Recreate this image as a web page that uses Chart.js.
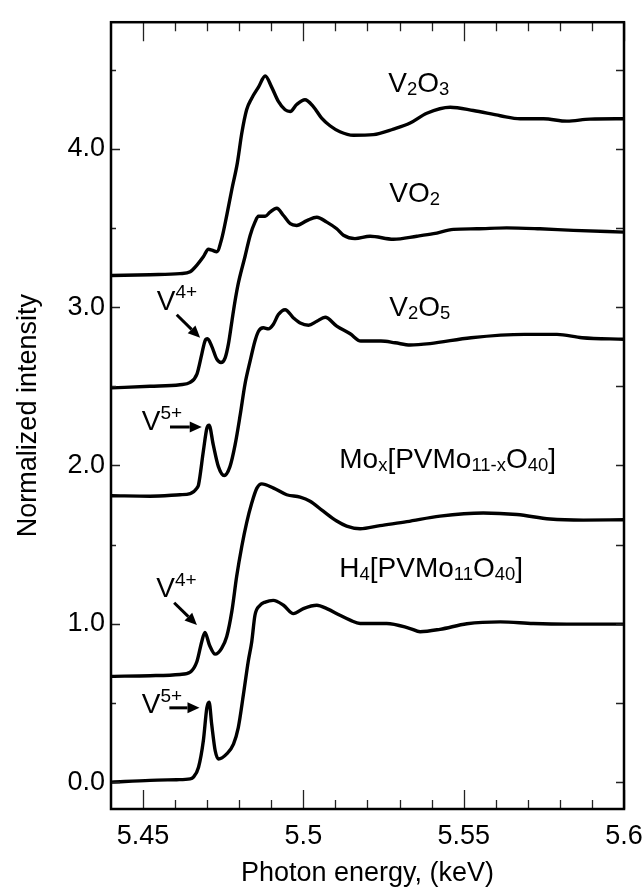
<!DOCTYPE html>
<html>
<head>
<meta charset="utf-8">
<script src="https://cdn.jsdelivr.net/npm/chart.js@4.4.1/dist/chart.umd.min.js"></script>
<style>
  html, body { margin: 0; padding: 0; background: #fff; }
  #wrap { width: 643px; height: 889px; }
</style>
</head>
<body>
<div id="wrap"><canvas id="xanes" width="643" height="889"></canvas></div>
<script>
// --- data (photon energy in keV, normalized intensity incl. vertical offset) ---
const v2o3E = [5.4402, 5.4522, 5.4615, 5.4647, 5.4668, 5.4688, 5.4704, 5.4715, 5.4730, 5.4745, 5.4761, 5.4777, 5.4794, 5.4808, 5.4823, 5.4839, 5.4860, 5.4881, 5.4901, 5.4922, 5.4943, 5.4959, 5.4979, 5.5005, 5.5031, 5.5057, 5.5083, 5.5114, 5.5156, 5.5218, 5.5281, 5.5333, 5.5385, 5.5458, 5.5530, 5.5614, 5.5676, 5.5749, 5.5822, 5.5894, 5.6000];
const v2o3I = [3.200, 3.205, 3.212, 3.224, 3.266, 3.318, 3.366, 3.360, 3.350, 3.430, 3.580, 3.745, 3.910, 4.100, 4.247, 4.320, 4.390, 4.460, 4.390, 4.300, 4.247, 4.236, 4.280, 4.310, 4.267, 4.194, 4.146, 4.108, 4.086, 4.090, 4.125, 4.163, 4.225, 4.263, 4.242, 4.209, 4.190, 4.190, 4.175, 4.188, 4.190];

const vo2E = [5.4402, 5.4522, 5.4615, 5.4647, 5.4668, 5.4683, 5.4693, 5.4701, 5.4714, 5.4730, 5.4743, 5.4756, 5.4766, 5.4777, 5.4787, 5.4797, 5.4818, 5.4834, 5.4849, 5.4860, 5.4881, 5.4896, 5.4917, 5.4938, 5.4959, 5.4979, 5.5011, 5.5042, 5.5073, 5.5104, 5.5125, 5.5161, 5.5208, 5.5281, 5.5354, 5.5406, 5.5468, 5.5541, 5.5634, 5.5738, 5.5842, 5.6000];
const vo2I = [2.490, 2.500, 2.510, 2.525, 2.577, 2.702, 2.786, 2.800, 2.754, 2.671, 2.650, 2.680, 2.765, 2.910, 3.040, 3.150, 3.320, 3.453, 3.537, 3.574, 3.574, 3.600, 3.625, 3.579, 3.527, 3.516, 3.547, 3.568, 3.537, 3.495, 3.454, 3.433, 3.448, 3.429, 3.448, 3.464, 3.491, 3.495, 3.501, 3.495, 3.485, 3.474];

const v2o5E = [5.4402, 5.4522, 5.4615, 5.4647, 5.4668, 5.4673, 5.4688, 5.4699, 5.4706, 5.4719, 5.4735, 5.4753, 5.4771, 5.4787, 5.4803, 5.4818, 5.4834, 5.4849, 5.4860, 5.4875, 5.4891, 5.4906, 5.4922, 5.4943, 5.4969, 5.4990, 5.5016, 5.5042, 5.5068, 5.5104, 5.5146, 5.5179, 5.5242, 5.5286, 5.5333, 5.5395, 5.5523, 5.5690, 5.5791, 5.5869, 5.6000];
const v2o5I = [1.809, 1.806, 1.815, 1.822, 1.857, 1.878, 2.090, 2.235, 2.254, 2.130, 1.993, 1.937, 1.993, 2.130, 2.320, 2.515, 2.660, 2.786, 2.848, 2.870, 2.863, 2.890, 2.953, 2.984, 2.932, 2.900, 2.886, 2.911, 2.936, 2.880, 2.832, 2.786, 2.786, 2.775, 2.761, 2.770, 2.807, 2.828, 2.828, 2.807, 2.797];

const moxE = [5.4402, 5.4522, 5.4615, 5.4647, 5.4668, 5.4683, 5.4693, 5.4707, 5.4725, 5.4745, 5.4761, 5.4777, 5.4792, 5.4808, 5.4823, 5.4839, 5.4855, 5.4870, 5.4907, 5.4948, 5.4990, 5.5021, 5.5062, 5.5104, 5.5135, 5.5177, 5.5239, 5.5323, 5.5426, 5.5561, 5.5666, 5.5769, 5.5873, 5.6000];
const moxI = [0.668, 0.672, 0.680, 0.695, 0.762, 0.887, 0.945, 0.866, 0.808, 0.845, 0.920, 1.080, 1.300, 1.490, 1.638, 1.763, 1.857, 1.884, 1.857, 1.815, 1.800, 1.774, 1.711, 1.649, 1.617, 1.600, 1.620, 1.645, 1.680, 1.700, 1.690, 1.662, 1.655, 1.657];

const h4E = [5.4402, 5.4522, 5.4605, 5.4647, 5.4657, 5.4673, 5.4688, 5.4699, 5.4706, 5.4714, 5.4725, 5.4735, 5.4761, 5.4782, 5.4797, 5.4813, 5.4828, 5.4839, 5.4849, 5.4865, 5.4881, 5.4906, 5.4938, 5.4969, 5.5000, 5.5042, 5.5073, 5.5114, 5.5146, 5.5177, 5.5260, 5.5333, 5.5364, 5.5426, 5.5510, 5.5614, 5.5717, 5.5822, 5.6000];
const h4I = [0.000, 0.011, 0.015, 0.020, 0.031, 0.094, 0.261, 0.470, 0.505, 0.366, 0.198, 0.146, 0.178, 0.240, 0.344, 0.553, 0.762, 0.887, 1.054, 1.117, 1.137, 1.148, 1.117, 1.064, 1.096, 1.117, 1.096, 1.054, 1.023, 1.002, 1.002, 0.970, 0.950, 0.965, 1.000, 1.012, 1.002, 0.998, 0.998];

const seriesE = [v2o3E, vo2E, v2o5E, moxE, h4E];
const seriesI = [v2o3I, vo2I, v2o5I, moxI, h4I];

// axis ticks
const xTickValues = [5.45, 5.5, 5.55, 5.6];
const xTickLabels = ['5.45', '5.5', '5.55', '5.6'];
const xMinorTicks = [5.46, 5.47, 5.48, 5.49, 5.51, 5.52, 5.53, 5.54, 5.56, 5.57, 5.58, 5.59];
const yTickValues = [0, 1, 2, 3, 4];
const yTickLabels = ['0.0', '1.0', '2.0', '3.0', '4.0'];
const yMinorTicks = [0.5, 1.5, 2.5, 3.5, 4.5];

// annotations (data coordinates; "_" subscript, "^" superscript)
const textLabels = [
  { text: 'V_2O_3', x: 5.5265, y: 4.361 },
  { text: 'VO_2', x: 5.5268, y: 3.662 },
  { text: 'V_2O_5', x: 5.5268, y: 2.942 },
  { text: 'Mo_x[PVMo_{11-x}O_{40}]', x: 5.5112, y: 1.982 },
  { text: 'H_4[PVMo_{11}O_{40}]', x: 5.5112, y: 1.294 },
  { text: 'V^{4+}', x: 5.4543, y: 2.984 },
  { text: 'V^{5+}', x: 5.4496, y: 2.222 },
  { text: 'V^{4+}', x: 5.4541, y: 1.169 },
  { text: 'V^{5+}', x: 5.4496, y: 0.438 }
];
const arrows = [
  [5.4605, 2.952, 5.4678, 2.807],
  [5.4584, 2.243, 5.4683, 2.243],
  [5.4597, 1.133, 5.4668, 0.992],
  [5.4582, 0.469, 5.4676, 0.469]
];

const FONT = '"Liberation Sans", Arial, Helvetica, sans-serif';

function parseRich(str) {
  const parts = [];
  let i = 0;
  while (i < str.length) {
    const c = str[i];
    if (c === '_' || c === '^') {
      let t;
      if (str[i + 1] === '{') {
        const j = str.indexOf('}', i);
        t = str.slice(i + 2, j);
        i = j + 1;
      } else {
        t = str[i + 1];
        i += 2;
      }
      parts.push({ t, mode: c });
    } else {
      let j = i;
      while (j < str.length && str[j] !== '_' && str[j] !== '^') j++;
      parts.push({ t: str.slice(i, j), mode: '' });
      i = j;
    }
  }
  return parts;
}

function drawRich(ctx, str, x, y, size) {
  let cx = x;
  for (const p of parseRich(str)) {
    let fs = size, dy = 0;
    if (p.mode === '_') { fs = size * 0.66; dy = size * 0.11; }
    if (p.mode === '^') { fs = size * 0.68; dy = -size * 0.4; }
    ctx.font = fs + 'px ' + FONT;
    ctx.fillText(p.t, cx, y + dy);
    cx += ctx.measureText(p.t).width;
  }
}

// box frame with inward ticks on all four sides
const frameTicks = {
  id: 'frameTicks',
  afterDraw(chart) {
    const { ctx, chartArea: a, scales: { x, y } } = chart;
    ctx.save();
    ctx.strokeStyle = '#222';
    ctx.lineWidth = 1.3;
    ctx.beginPath();
    const xt = (v, len) => {
      const px = Math.round(x.getPixelForValue(v)) + 0.5;
      ctx.moveTo(px, a.bottom); ctx.lineTo(px, a.bottom - len);
      ctx.moveTo(px, a.top); ctx.lineTo(px, a.top + len);
    };
    xTickValues.forEach(v => xt(v, 19));
    xMinorTicks.forEach(v => xt(v, 9));
    const yt = (v, lenL, lenR) => {
      const py = Math.round(y.getPixelForValue(v)) + 0.5;
      ctx.moveTo(a.left, py); ctx.lineTo(a.left + lenL, py);
      ctx.moveTo(a.right, py); ctx.lineTo(a.right - lenR, py);
    };
    yTickValues.forEach(v => yt(v, 9, 8));
    yMinorTicks.forEach(v => yt(v, 5, 8));
    ctx.stroke();
    ctx.strokeStyle = '#000';
    ctx.lineWidth = 2.5;
    ctx.strokeRect(a.left, a.top, a.right - a.left, a.bottom - a.top);
    ctx.restore();
  }
};

const annotations = {
  id: 'annotations',
  afterDatasetsDraw(chart) {
    const { ctx, scales: { x, y } } = chart;
    ctx.save();
    ctx.fillStyle = '#000';
    ctx.textBaseline = 'alphabetic';
    ctx.textAlign = 'left';
    textLabels.forEach(l => drawRich(ctx, l.text, x.getPixelForValue(l.x), y.getPixelForValue(l.y), 28));
    ctx.strokeStyle = '#000';
    ctx.lineWidth = 3;
    arrows.forEach(([x0, y0, x1, y1]) => {
      const ax = x.getPixelForValue(x0), ay = y.getPixelForValue(y0);
      const bx = x.getPixelForValue(x1), by = y.getPixelForValue(y1);
      const ang = Math.atan2(by - ay, bx - ax);
      const hl = 12, hw = 5.5;
      const sx = bx - hl * Math.cos(ang), sy = by - hl * Math.sin(ang);
      ctx.beginPath();
      ctx.moveTo(ax, ay); ctx.lineTo(sx, sy);
      ctx.stroke();
      ctx.beginPath();
      ctx.moveTo(bx, by);
      ctx.lineTo(sx + hw * Math.sin(ang), sy - hw * Math.cos(ang));
      ctx.lineTo(sx - hw * Math.sin(ang), sy + hw * Math.cos(ang));
      ctx.closePath();
      ctx.fill();
    });
    ctx.restore();
  }
};

new Chart(document.getElementById('xanes'), {
  type: 'line',
  data: {
    datasets: seriesE.map((es, k) => ({
      data: es.map((e, i) => ({ x: e, y: seriesI[k][i] })),
      borderColor: '#000',
      borderWidth: 3.4,
      pointRadius: 0,
      fill: false,
      cubicInterpolationMode: 'monotone'
    }))
  },
  options: {
    responsive: false,
    animation: false,
    devicePixelRatio: 1,
    layout: { padding: { left: 0, top: 15, right: 19, bottom: 0 } },
    plugins: { legend: { display: false }, tooltip: { enabled: false } },
    scales: {
      x: {
        type: 'linear',
        min: 5.44,
        max: 5.6,
        grid: { display: false, drawTicks: false },
        border: { display: false },
        afterBuildTicks: s => { s.ticks = xTickValues.map(v => ({ value: v })); },
        afterFit: s => { s.height = 80; s.paddingLeft = 0; s.paddingRight = 0; },
        ticks: {
          color: '#000',
          font: { family: FONT, size: 27 },
          padding: 11,
          maxRotation: 0,
          autoSkip: false,
          callback: v => xTickLabels[xTickValues.indexOf(v)]
        },
        title: {
          display: true,
          text: 'Photon energy, (keV)',
          color: '#000',
          font: { family: FONT, size: 27, lineHeight: 1 },
          padding: { top: 0, bottom: 2 }
        }
      },
      y: {
        min: -0.17,
        max: 4.8,
        grid: { display: false, drawTicks: false },
        border: { display: false },
        afterBuildTicks: s => { s.ticks = yTickValues.map(v => ({ value: v })); },
        afterFit: s => { s.width = 111; },
        ticks: {
          color: '#000',
          font: { family: FONT, size: 27 },
          padding: 6,
          callback: v => yTickLabels[yTickValues.indexOf(v)]
        },
        title: {
          display: true,
          text: 'Normalized intensity',
          color: '#000',
          font: { family: FONT, size: 27, lineHeight: 1 },
          padding: { top: 15, bottom: 0 }
        }
      }
    }
  },
  plugins: [frameTicks, annotations]
});
</script>
</body>
</html>
